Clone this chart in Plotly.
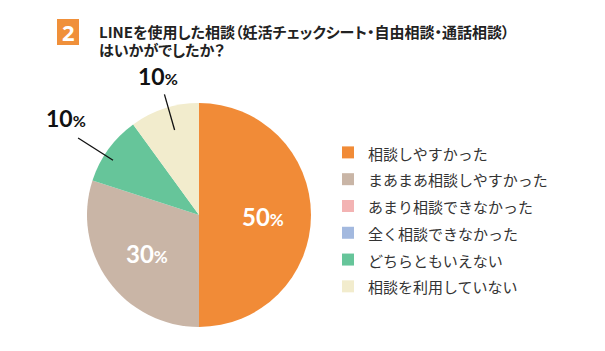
import math
import plotly.graph_objects as go

# ---- data ----
categories = ["相談しやすかった", "まあまあ相談しやすかった", "あまり相談できなかった",
              "全く相談できなかった", "どちらともいえない", "相談を利用していない"]
values = [50, 30, 0, 0, 10, 10]
colors = ["#F18B37", "#C9B5A6", "#F3B3B3", "#A3B9DF", "#66C59A", "#F2ECCD"]
title_num = "2"
title_lines = ["LINEを使用した相談（妊活チェックシート・自由相談・通話相談）", "はいかがでしたか？"]

# ---- layout geometry (pixels) ----
W, H = 605, 351
cx, cy, R = 199, 215, 112

def px(x):
    return x / W

def py(y):
    return 1 - y / H

total = sum(values)
legend_labels = ['<span style="font-size:15px">%s</span>' % c for c in categories]

fig = go.Figure(go.Pie(
    labels=legend_labels,
    values=values,
    sort=False,
    direction="clockwise",
    rotation=0,
    marker=dict(colors=colors, line=dict(width=0)),
    textinfo="none",
    hoverinfo="skip",
    domain=dict(x=[px(cx - R), px(cx + R)], y=[py(cy + R), py(cy - R)]),
))

annotations = []
shapes = []

def pct_text(v, big, small):
    return '<b><span style="font-size:%dpx">%d</span><span style="font-size:%dpx">%%</span></b>' % (big, v, small)

cum = 0
for i, v in enumerate(values):
    if v == 0:
        continue
    frac = v / total
    mid = (cum + frac / 2) * 360
    cum += frac
    a = math.radians(mid)
    dx, dy = math.sin(a), -math.cos(a)
    if frac >= 0.2:
        r = 0.57 * R
        annotations.append(dict(x=px(cx + dx * r), y=py(cy + dy * r + 1), xref="paper", yref="paper",
                                text=pct_text(v, 24, 17), showarrow=False,
                                font=dict(family="Lato", color="white"),
                                xanchor="center", yanchor="middle"))
    else:
        a2 = math.radians(mid + (2 if mid > 320 else -3.5))
        ddx, ddy = math.sin(a2), -math.cos(a2)
        rin, rout, rlab = (0.79, 1.12, 1.29) if mid > 320 else (0.91, 1.28, 1.47)
        shapes.append(dict(type="line", xref="paper", yref="paper",
                           x0=px(cx + ddx * rin * R), y0=py(cy + ddy * rin * R),
                           x1=px(cx + ddx * rout * R), y1=py(cy + ddy * rout * R),
                           line=dict(color="#111111", width=1.3)))
        a3 = math.radians(mid + (1.5 if mid > 320 else 0))
        annotations.append(dict(x=px(cx + math.sin(a3) * rlab * R), y=py(cy - math.cos(a3) * rlab * R),
                                xref="paper", yref="paper",
                                text=pct_text(v, 23, 16), showarrow=False,
                                font=dict(family="Lato", color="#111111"),
                                xanchor="center", yanchor="middle"))

# title box
shapes.append(dict(type="rect", xref="paper", yref="paper",
                   x0=px(57), x1=px(79), y0=py(45), y1=py(19),
                   fillcolor="#F0903A", line=dict(width=0)))
annotations.append(dict(x=px(68), y=py(32.5), xref="paper", yref="paper", text="<b>%s</b>" % title_num,
                        showarrow=False, font=dict(family="Noto Sans", size=22, color="white"),
                        xanchor="center", yanchor="middle"))
title_html = "<br>".join(
    '<span style="font-size:15px;font-feature-settings:\'palt\'"><b>%s</b></span>' % line
    for line in title_lines)
annotations.append(dict(x=px(97), y=py(40.5), xref="paper", yref="paper",
                        text=title_html, showarrow=False, align="left",
                        font=dict(family="Noto Sans CJK JP", size=14, color="#222222"),
                        xanchor="left", yanchor="middle"))

fig.update_layout(
    width=W, height=H,
    margin=dict(l=0, r=0, t=0, b=0),
    paper_bgcolor="white",
    plot_bgcolor="white",
    showlegend=True,
    legend=dict(x=px(328), y=py(134), xanchor="left", yanchor="top",
                font=dict(family="Noto Sans CJK JP", size=18.3, color="#333333"),
                itemclick=False, itemdoubleclick=False, bgcolor="rgba(0,0,0,0)"),
    annotations=annotations,
    shapes=shapes,
)

fig.write_html("out.html")
